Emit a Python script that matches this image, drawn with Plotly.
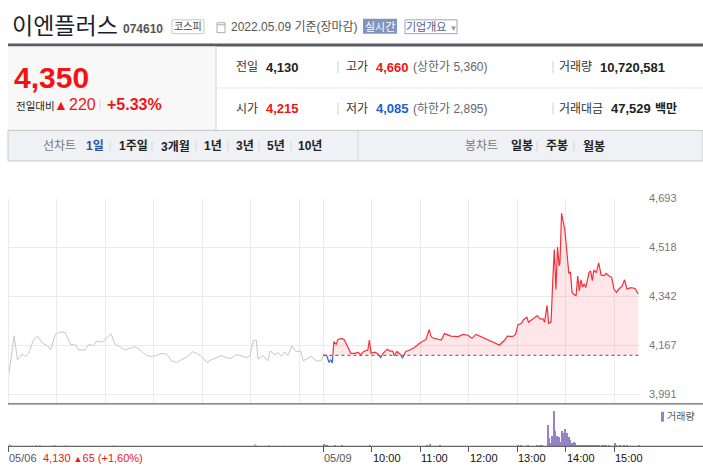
import plotly.graph_objects as go

W, H = 703, 473
FONT = "Liberation Sans, Noto Sans CJK KR, sans-serif"

# ---- data ----
PREV_CLOSE = 4130
Y_TICKS = [3991, 4167, 4342, 4518, 4693]

DAY1_TIME = ["09:00", "09:07", "09:11", "09:17", "09:21", "09:25", "09:31", "09:36", "09:42", "09:48",
             "09:52", "09:58", "10:04", "10:10", "10:17", "10:23", "10:27", "10:35", "10:39", "10:45",
             "10:49", "10:56", "11:02", "11:07", "11:12", "11:18", "11:24", "11:31", "11:37", "11:43",
             "11:51", "11:57", "12:03", "12:10", "12:16", "12:22", "12:28", "12:34", "12:40", "12:48",
             "12:55", "13:01", "13:06", "13:11", "13:17", "13:24", "13:30", "13:36", "13:42", "13:48",
             "13:54", "13:59", "14:03", "14:07", "14:09", "14:15", "14:21", "14:24", "14:30", "14:34",
             "14:38", "14:42", "14:46", "14:51", "14:56", "15:02", "15:05", "15:11", "15:15", "15:21",
             "15:27", "15:30"]
DAY1_PRICE = [4055, 4200, 4114, 4134, 4126, 4137, 4185, 4199, 4173, 4165,
              4149, 4205, 4214, 4212, 4169, 4167, 4149, 4149, 4169, 4165,
              4181, 4177, 4193, 4208, 4169, 4161, 4149, 4155, 4161, 4149,
              4129, 4126, 4129, 4137, 4134, 4110, 4104, 4114, 4122, 4143,
              4134, 4120, 4104, 4114, 4122, 4129, 4120, 4120, 4132, 4129,
              4122, 4126, 4181, 4185, 4116, 4129, 4110, 4146, 4132, 4141,
              4126, 4143, 4129, 4164, 4143, 4146, 4110, 4120, 4126, 4110,
              4110, 4130]

DAY2_TIME = ["09:00", "09:04", "09:07", "09:09", "09:11", "09:13", "09:16", "09:18", "09:23", "09:26",
             "09:29", "09:34", "09:39", "09:43", "09:46", "09:50", "09:55", "09:57", "09:59", "10:04",
             "10:08", "10:11", "10:14", "10:19", "10:22", "10:26", "10:28", "10:31", "10:35", "10:38",
             "10:42", "10:47", "10:53", "10:59", "11:07", "11:11", "11:13", "11:15", "11:19", "11:26",
             "11:30", "11:38", "11:47", "11:53", "11:59", "12:04", "12:09", "12:15", "12:22", "12:28",
             "12:34", "12:38", "12:44", "12:48", "12:54", "12:58", "13:01", "13:05", "13:08", "13:12",
             "13:14", "13:19", "13:25", "13:28", "13:32", "13:34", "13:37", "13:39", "13:42", "13:44",
             "13:46", "13:48", "13:50", "13:52", "13:53", "13:55", "13:57", "13:59", "14:04", "14:06",
             "14:08", "14:11", "14:13", "14:15", "14:17", "14:19", "14:21", "14:23", "14:25", "14:29",
             "14:31", "14:33", "14:35", "14:38", "14:41", "14:44", "14:48", "14:50", "14:54", "14:57",
             "15:00", "15:03", "15:06", "15:10", "15:13", "15:16", "15:21", "15:26", "15:30"]
DAY2_PRICE = [4132, 4129, 4104, 4114, 4102, 4179, 4169, 4187, 4191, 4185,
              4167, 4137, 4137, 4141, 4132, 4144, 4149, 4185, 4137, 4141,
              4134, 4122, 4137, 4152, 4146, 4144, 4128, 4144, 4134, 4120,
              4144, 4149, 4158, 4173, 4187, 4222, 4200, 4193, 4190, 4185,
              4208, 4199, 4197, 4205, 4202, 4191, 4205, 4197, 4188, 4182,
              4173, 4167, 4183, 4199, 4197, 4205, 4240, 4244, 4258, 4267,
              4249, 4261, 4273, 4261, 4261, 4249, 4309, 4245, 4249, 4392,
              4510, 4366, 4519, 4451, 4462, 4640, 4610, 4581, 4424, 4429,
              4356, 4347, 4345, 4415, 4361, 4401, 4375, 4387, 4373, 4427,
              4433, 4398, 4436, 4427, 4462, 4418, 4416, 4424, 4415, 4410,
              4366, 4356, 4368, 4378, 4401, 4368, 4373, 4370, 4350]

VOL1_TIME = ["09:00", "09:01", "09:03", "09:33", "09:38", "09:56", "09:57", "10:11", "11:10", "14:05",
             "14:06", "14:22", "14:40"]
VOL1 = [40000, 25000, 20000, 17000, 12000, 17000, 12000, 10000, 10000, 35000,
        17000, 10000, 10000]

VOL2_TIME = ["09:00", "09:01", "09:02", "09:04", "09:14", "09:23", "09:57", "11:08", "11:12", "11:24",
             "13:00", "13:04", "13:13", "13:24", "13:28", "13:30", "13:38", "13:39", "13:41", "13:43",
             "13:45", "13:46", "13:49", "13:51", "13:53", "13:55", "13:57", "13:59", "14:01", "14:04",
             "14:05", "14:07", "14:10", "14:11", "14:13", "14:15", "14:17", "14:19", "14:21", "14:23",
             "14:25", "14:27", "14:29", "14:31", "14:33", "14:35", "14:37", "14:39", "14:41", "14:44",
             "14:47", "14:50", "14:53", "15:00", "15:02", "15:07", "15:12", "15:16", "15:30"]
VOL2 = [45000, 30000, 20000, 17000, 20000, 15000, 15000, 20000, 40000, 15000,
        34000, 17000, 17000, 17000, 17000, 17000, 378000, 155000, 57000, 189000,
        620000, 275000, 189000, 172000, 74000, 275000, 229000, 304000, 235000, 172000,
        115000, 63000, 86000, 57000, 34000, 30000, 34000, 25000, 34000, 28000,
        34000, 30000, 25000, 34000, 28000, 22000, 30000, 25000, 22000, 20000,
        25000, 20000, 17000, 63000, 17000, 17000, 17000, 17000, 34000]

DAY2_HOURS = ["10:00", "11:00", "12:00", "13:00", "14:00", "15:00"]
DAY1_HOURS = ["10:00", "11:00", "12:00", "13:00", "14:00", "15:00"]


def idx(t, day):
    h, m = map(int, t.split(":"))
    return day * 390 + h * 60 + m - 540


def px(x):
    return x / W


def py(y):
    return 1 - y / H


x1 = [idx(t, 0) for t in DAY1_TIME]
x2 = [idx(t, 1) for t in DAY2_TIME]


def colored_runs(xs, ys, base):
    # split the line where it crosses the previous close so each part gets its colour
    runs = {"up": ([], []), "dn": ([], [])}
    for i in range(len(xs) - 1):
        pts = [(xs[i], ys[i]), (xs[i + 1], ys[i + 1])]
        if (ys[i] - base) * (ys[i + 1] - base) < 0:
            xc = xs[i] + (xs[i + 1] - xs[i]) * (base - ys[i]) / (ys[i + 1] - ys[i])
            pts.insert(1, (xc, base))
        for a, b in zip(pts[:-1], pts[1:]):
            key = "up" if (a[1] + b[1]) / 2 >= base else "dn"
            rx, ry = runs[key]
            if len(rx) >= 2 and rx[-2] == a[0] and ry[-2] == a[1]:
                rx.insert(-1, b[0])
                ry.insert(-1, b[1])
            else:
                rx += [a[0], b[0], None]
                ry += [a[1], b[1], None]
    return runs


runs = colored_runs(x2, DAY2_PRICE, PREV_CLOSE)

fig = go.Figure()
fig.add_trace(go.Scatter(x=x1, y=DAY1_PRICE, mode="lines",
                         line=dict(color="#c6c6cc", width=1)))
fig.add_trace(go.Scatter(x=x2, y=[PREV_CLOSE] * len(x2), mode="lines",
                         line=dict(width=0), hoverinfo="skip"))
fig.add_trace(go.Scatter(x=x2, y=DAY2_PRICE, mode="lines", fill="tonexty",
                         fillcolor="rgba(245,50,70,0.12)", line=dict(width=0)))
fig.add_trace(go.Scatter(x=[x2[0], x2[-1]], y=[PREV_CLOSE, PREV_CLOSE], mode="lines",
                         line=dict(color="#555", width=1, dash="dot")))
fig.add_trace(go.Scatter(x=runs["up"][0], y=runs["up"][1], mode="lines",
                         line=dict(color="#f2303c", width=1.2)))
fig.add_trace(go.Scatter(x=runs["dn"][0], y=runs["dn"][1], mode="lines",
                         line=dict(color="#2f6fd8", width=1.2)))

fig.add_trace(go.Bar(x=[idx(t, 0) for t in VOL1_TIME], y=VOL1, width=1.2,
                     marker=dict(color="#c8c8c8", line=dict(width=0)),
                     xaxis="x2", yaxis="y2"))
fig.add_trace(go.Bar(x=[idx(t, 1) for t in VOL2_TIME], y=VOL2, width=1.2,
                     marker=dict(color="#9583c8", line=dict(width=0)),
                     xaxis="x2", yaxis="y2"))

x_end = (640 - 8.5) / 0.8074
grid_x = [0] + [idx(t, 0) for t in DAY1_HOURS] + [390] + [idx(t, 1) for t in DAY2_HOURS]
vol_ticks = [0, 390] + [idx(t, 1) for t in DAY2_HOURS]

shapes = []
ann = []


def text(x, y, s, size=12, color="#333", bold=False, anchor="left", xref="paper"):
    ann.append(dict(x=px(x) if xref == "paper" else x, y=py(y), xref=xref, yref="paper",
                    text=f"<b>{s}</b>" if bold else s, showarrow=False,
                    xanchor=anchor, yanchor="middle", borderpad=0,
                    font=dict(size=size, color=color, family=FONT)))


def rect(x0, y0, x1_, y1, fill=None, line=None, width=1):
    shapes.append(dict(type="rect", xref="paper", yref="paper",
                       x0=px(x0), x1=px(x1_), y0=py(y0), y1=py(y1),
                       fillcolor=fill or "rgba(0,0,0,0)",
                       line=dict(color=line or "rgba(0,0,0,0)", width=width if line else 0)))


def seg(x0, y0, x1_, y1, color, width=1):
    shapes.append(dict(type="line", xref="paper", yref="paper",
                       x0=px(x0), x1=px(x1_), y0=py(y0), y1=py(y1),
                       line=dict(color=color, width=width)))


# header
text(11, 20, "이엔플러스", size=23, color="#1e1e2a")
text(122, 23, "074610", size=12, color="#555", bold=True)
rect(172, 14, 204, 28, fill="white", line="#c8c8c8")
text(188, 21, "코스피", size=10, color="#444", anchor="center")
rect(217, 17, 225, 27, fill="white", line="#aaa")
seg(217, 19, 225, 19, "#aaa")
text(230, 21, "2022.05.09 기준(장마감)", size=12, color="#555")
rect(363, 13, 397, 28, fill="#8194be")
text(380, 21, "실시간", size=11, color="white", anchor="center")
rect(405, 14, 457, 28, fill="white", line="#97a6c9")
text(431, 21, "기업개요 <span style='font-size:8px;color:#999'>▼</span>", size=11,
     color="#4c5c8c", anchor="center")
rect(8, 38, 703, 41, fill="#575c64")

# price summary
rect(8, 41, 216, 126, fill="#f8f8f8")
seg(216, 41, 216, 126, "#cfcfcf")
seg(216, 83, 703, 83, "#e6e6e6")
text(13, 72, "4,350", size=30, color="#f01414", bold=True)
text(15, 101, "전일대비", size=10.5, color="#222")
text(53, 100, "▲", size=14, color="#f01414")
text(68, 100, "220", size=16, color="#f01414")
seg(100, 94, 100, 106, "#d5d5d5")
text(106, 100, "+5.33%", size=16, color="#f01414", bold=True)

for yy in (62, 104):
    seg(338, yy - 6, 338, yy + 6, "#d0d0d0")
    seg(553, yy - 6, 553, yy + 6, "#d0d0d0")
text(235, 62, "전일", size=12, color="#333")
text(265, 62, "4,130", size=13, color="#222", bold=True)
text(345, 62, "고가", size=12, color="#333")
text(375, 62, "4,660", size=13, color="#f01414", bold=True)
text(412, 62, "(상한가 5,360)", size=12, color="#666")
text(558, 62, "거래량", size=12, color="#333")
text(599, 62, "10,720,581", size=13, color="#222", bold=True)
text(235, 104, "시가", size=12, color="#333")
text(265, 104, "4,215", size=13, color="#f01414", bold=True)
text(345, 104, "저가", size=12, color="#333")
text(375, 104, "4,085", size=13, color="#1a5fd0", bold=True)
text(412, 104, "(하한가 2,895)", size=12, color="#666")
text(558, 104, "거래대금", size=12, color="#333")
text(610, 104, "47,529", size=13, color="#222", bold=True)
text(654, 104, "백만", size=12, color="#222", bold=True)

# toolbar
rect(8, 126, 703, 157, fill="#f0f1f5", line="#c9c9c9")
seg(358, 126, 358, 157, "#d5d5d5")
text(42, 142, "선차트", size=12, color="#777")
for lab, xx, col in [("1일", 85, "#2c4f9e"), ("1주일", 118, "#222"), ("3개월", 160, "#222"),
                     ("1년", 203, "#222"), ("3년", 235, "#222"), ("5년", 266, "#222"),
                     ("10년", 297, "#222"), ("일봉", 510, "#222"), ("주봉", 545, "#222"),
                     ("월봉", 582, "#222")]:
    text(xx, 142, lab, size=12, color=col, bold=True)
for xx in (110, 152, 196, 228, 259, 291, 537, 574):
    seg(xx, 137, xx, 147, "#d5d5d5")
text(464, 142, "봉차트", size=12, color="#777")

# chart frame lines
seg(8.5, 195, 8.5, 403, "#ebebeb")
seg(8, 403, 703, 403, "#666", 1.2)
seg(8, 446, 703, 446, "#666", 1.2)

# volume legend
rect(661, 411, 664, 421, fill="#9583c8")
text(666, 416, "거래량", size=10, color="#555")

# time labels
text(8, 458, "05/06", size=11, color="#555")
text(42, 458, "4,130 <span style='font-size:9px'>▲</span>65 (+1,60%)", size=11, color="#f01414")
text(390, 458, "05/09", size=11, color="#555", xref="x2")
for t in DAY2_HOURS:
    text(idx(t, 1), 458, t, size=11, color="#111", xref="x2")

fig.update_layout(
    width=W, height=H,
    margin=dict(l=0, r=0, t=0, b=0),
    paper_bgcolor="white", plot_bgcolor="white",
    showlegend=False, bargap=0,
    shapes=shapes, annotations=ann,
    xaxis=dict(domain=[px(8.5), px(640)], range=[0, x_end], tickvals=grid_x,
               showticklabels=False, showgrid=True, gridcolor="#ebebeb", gridwidth=1,
               zeroline=False, showline=False, fixedrange=True),
    yaxis=dict(domain=[py(403), py(195)], range=[3991 - 10 * 702 / 198, 4693], side="right",
               tickvals=Y_TICKS, ticktext=[f"{v:,}" for v in Y_TICKS],
               showgrid=True, gridcolor="#ebebeb", zeroline=False, ticks="",
               ticklabelstandoff=8, tickfont=dict(size=11, color="#777", family=FONT)),
    xaxis2=dict(domain=[px(8.5), px(640)], range=[0, x_end], anchor="y2",
                tickvals=vol_ticks, showticklabels=False, ticks="outside", ticklen=5,
                tickcolor="#555", tickwidth=1, showgrid=False, zeroline=False),
    yaxis2=dict(domain=[py(446), py(403)], range=[0, 620000 * 43 / 36], anchor="x2",
                showticklabels=False, showgrid=False, zeroline=False),
)

fig.write_html("out.html", config={"displayModeBar": False},
               post_script="document.body.style.margin='0';document.body.style.overflow='hidden';")
